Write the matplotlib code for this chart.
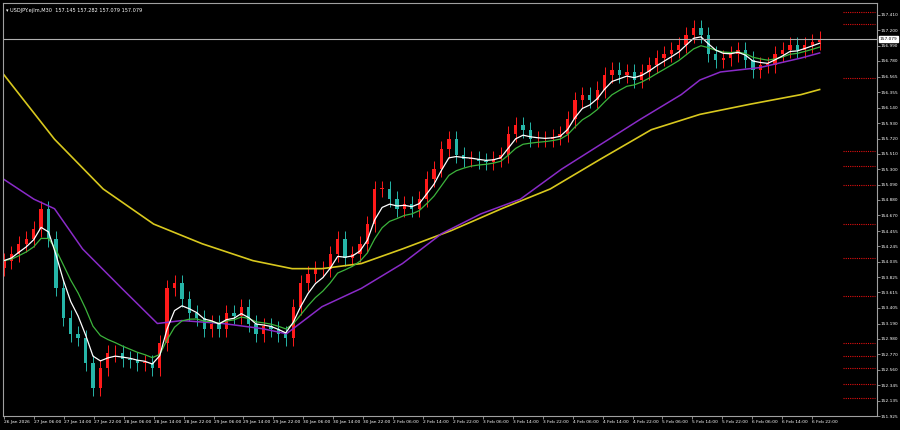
import matplotlib
matplotlib.use("Agg")
import matplotlib.pyplot as plt
import numpy as np

closes = [154.05,154.14,154.28,154.35,154.48,154.76,154.35,153.67,153.26,153.05,152.99,152.65,152.31,152.58,
          152.78,152.78,152.71,152.69,152.65,152.65,152.58,152.92,153.67,153.74,153.53,153.33,153.26,153.12,
          153.19,153.12,153.33,153.29,153.42,153.19,153.05,153.15,153.12,153.05,152.99,153.42,153.74,153.87,
          153.94,153.94,154.14,154.35,154.08,154.14,154.28,154.55,155.03,155.03,154.89,154.76,154.82,154.76,
          154.89,155.16,155.30,155.57,155.71,155.50,155.44,155.44,155.41,155.40,155.44,155.50,155.78,155.91,
          155.84,155.71,155.71,155.71,155.74,155.78,155.98,156.25,156.32,156.25,156.39,156.59,156.66,156.59,
          156.63,156.52,156.63,156.73,156.82,156.87,156.93,157.00,157.14,157.23,157.14,156.87,156.80,156.82,
          156.87,156.93,156.80,156.66,156.73,156.73,156.87,156.93,157.00,156.93,157.00,157.04,157.079]
first_open = 153.95
wick = 0.11

yellow_bar = [0,27,53,80,106,133,154,170,191,213,239,266,292,319,346,372,399,426,436]
yellow_val = [156.59,155.71,155.03,154.55,154.28,154.05,153.94,153.94,154.01,154.21,154.46,154.76,155.03,
              155.44,155.84,156.05,156.19,156.32,156.39]
purple_bar = [0,16,27,42,63,82,95,117,138,151,170,191,213,234,255,276,298,319,340,362,372,383,404,426,436]
purple_val = [155.16,154.89,154.76,154.21,153.67,153.19,153.23,153.19,153.12,153.05,153.42,153.67,154.01,
              154.42,154.69,154.89,155.30,155.64,155.98,156.32,156.52,156.63,156.69,156.82,156.89]

ytick_vals = [157.410,157.200,156.990,156.780,156.565,156.355,156.140,155.930,155.720,155.510,155.300,
              155.090,154.880,154.670,154.455,154.245,154.035,153.825,153.615,153.405,153.190,152.980,
              152.770,152.560,152.345,152.135,151.925]
xtick_labels = ["26 Jan 2026","27 Jan 06:00","27 Jan 14:00","27 Jan 22:00","28 Jan 06:00","28 Jan 14:00",
                "28 Jan 22:00","29 Jan 06:00","29 Jan 14:00","29 Jan 22:00","30 Jan 06:00","30 Jan 14:00",
                "30 Jan 22:00","2 Feb 06:00","2 Feb 14:00","2 Feb 22:00","3 Feb 06:00","3 Feb 14:00",
                "3 Feb 22:00","4 Feb 06:00","4 Feb 14:00","4 Feb 22:00","5 Feb 06:00","5 Feb 14:00",
                "5 Feb 22:00","6 Feb 06:00","6 Feb 14:00","6 Feb 22:00"]
level_vals = [157.45,157.29,156.55,155.55,155.34,155.08,154.55,154.09,153.56,152.92,152.75,152.58,152.36,152.17]

fig = plt.figure(figsize=(9, 4.3), dpi=100, facecolor="black")
ax = fig.add_axes([3/900, 1-416/430, 874/900, 413/430], facecolor="black")
for s in ax.spines.values():
    s.set_color("#a0a0a0"); s.set_linewidth(0.8)

n = len(closes)
step = 436/(n-1)
xs = np.arange(n)*step
opens = [first_open] + closes[:-1]
up, dn = "#ff1a1a", "#26b5a8"
for x, o, c in zip(xs, opens, closes):
    col = up if c >= o else dn
    lo, hi = min(o, c), max(o, c)
    ax.vlines(x, lo-wick, hi+wick, color=col, lw=0.7)
    ax.bar(x, max(hi-lo, 0.01), bottom=lo, width=step*0.45, color=col, lw=0)

cs = np.array(closes)
def ema(a, span):
    al = 2/(span+1); out = [a[0]]
    for v in a[1:]:
        out.append(out[-1]+al*(v-out[-1]))
    return np.array(out)
ax.plot(yellow_bar, yellow_val, color="#d8c81e", lw=1.2)
ax.plot(purple_bar, purple_val, color="#8a2bc8", lw=1.1)
ax.plot(xs, ema(cs, 8), color="#3cb43c", lw=0.9)
ax.plot(xs, ema(cs, 4), color="white", lw=0.9)

ax.axhline(157.079, color="#b0b0b0", lw=0.8)
for v in level_vals:
    ax.plot([(843-2)/1.875, (875-2)/1.875], [v, v], color="#e01010", lw=0.8, ls=(0,(1,1)))

ax.set_xlim(-1/1.875, (877-2)/1.875)
ax.set_ylim(157.614-0.013611*416, 157.614-0.013611*3)
ax.yaxis.tick_right()
ax.set_yticks(ytick_vals)
ax.set_yticklabels([f"{v:.3f}" for v in ytick_vals], fontsize=3.1, color="white")
ax.set_xticks([16*k for k in range(len(xtick_labels))])
ax.set_xticklabels(xtick_labels, fontsize=3.2, color="white", ha="left")
ax.tick_params(axis="x", colors="#a0a0a0", length=2, width=0.6, pad=1.2)
ax.tick_params(axis="y", colors="#a0a0a0", length=2, width=0.6, pad=0.8)
for t in ax.get_xticklabels()+ax.get_yticklabels():
    t.set_color("white")
ax.text(1.003, 157.079, "157.079", transform=ax.get_yaxis_transform(), fontsize=3.1, color="black",
        va="center", ha="left", bbox=dict(boxstyle="square,pad=0.15", fc="white", ec="white"))
ax.text(0.004, 0.988, "▾ USDJPY.ejlm,M30  157.145 157.282 157.079 157.079", transform=ax.transAxes,
        fontsize=3.6, color="white", va="top", ha="left")
fig.savefig("out.png", dpi=100, facecolor="black")
